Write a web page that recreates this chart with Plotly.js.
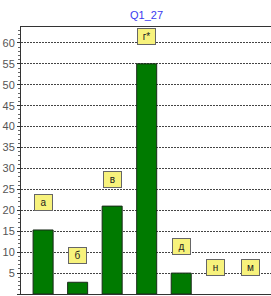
<!DOCTYPE html>
<html><head><meta charset="utf-8">
<script src="https://cdn.plot.ly/plotly-3.0.1.min.js"></script>
<style>html,body{margin:0;padding:0;background:#fff}</style>
</head><body><div id="chart" style="width:271px;height:296px"></div>
<script>
const categories = ['а', 'б', 'в', 'г*', 'д', 'н', 'м'];
const values = [15.3, 2.8, 21, 55, 5, 0, 0];
const yTicks = [0, 5, 10, 15, 20, 25, 30, 35, 40, 45, 50, 55, 60];
const idx = categories.map((c, i) => i);

const trace = {
  type: 'bar', x: idx, y: values, width: 0.58,
  marker: {color: '#007a00', line: {color: '#1a2a1a', width: values.map(v => v > 0 ? 1 : 0)}},
  hoverinfo: 'none'
};
const annotations = categories.map((c, i) => ({
  x: i, y: values[i], xref: 'x', yref: 'y', text: c, showarrow: false,
  yshift: 27, bgcolor: '#f7f27c', bordercolor: '#666', borderwidth: 1, borderpad: 2,
  width: 13, height: 11,
  font: {family: 'Arial, Liberation Sans', size: 10, color: '#222'}
}));
annotations.push({
  xref: 'paper', yref: 'paper', x: 0.5, y: 1, yshift: 12, text: 'Q1_27', showarrow: false,
  font: {family: 'Arial, Liberation Sans', size: 11, color: '#3b3bf0'}, xanchor: 'center', yanchor: 'middle'
});
const layout = {
  width: 271, height: 296,
  margin: {l: 21, r: 0, t: 27, b: 2},
  paper_bgcolor: '#fff', plot_bgcolor: '#fff',
  showlegend: false,
  xaxis: {range: [-0.64, 6.6], showticklabels: false, showgrid: false, zeroline: false,
    showline: true, linecolor: '#333', linewidth: 1, mirror: true, ticks: ''},
  yaxis: {range: [0, 63.8], tickvals: yTicks, showgrid: true, gridcolor: '#444', griddash: '2px,1px',
    gridwidth: 1, zeroline: false, showline: true, linecolor: '#333', linewidth: 1,
    ticks: 'outside', ticklen: 3, tickcolor: '#333',
    minor: {dtick: 1, ticks: 'outside', ticklen: 2, tickcolor: '#666', showgrid: false},
    tickfont: {family: 'Arial, Liberation Sans', size: 11, color: '#555'}},
  annotations: annotations
};
Plotly.newPlot('chart', [trace], layout, {displayModeBar: false, staticPlot: true});
</script></body></html>
